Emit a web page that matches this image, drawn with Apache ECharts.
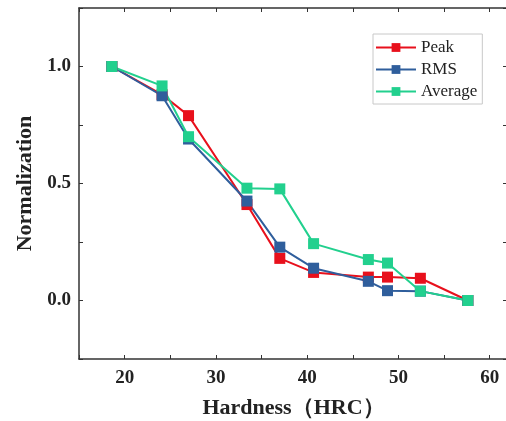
<!DOCTYPE html>
<html><head><meta charset="utf-8">
<script src="https://cdn.jsdelivr.net/npm/echarts@6/dist/echarts.min.js"></script>
<style>html,body{margin:0;padding:0;background:#fff}#c{width:506px;height:421px}</style>
</head><body><div id="c"></div>
<script>
var hardness = [18.6, 24.1, 27.0, 33.4, 37.0, 40.7, 46.7, 48.8, 52.4, 57.6];
var peak    = [1.0, 0.88, 0.79, 0.41, 0.18, 0.12, 0.10, 0.10, 0.095, 0.0];
var rms     = [1.0, 0.875, 0.69, 0.425, 0.228, 0.138, 0.082, 0.042, 0.04, 0.0];
var average = [1.0, 0.917, 0.70, 0.48, 0.477, 0.243, 0.175, 0.16, 0.04, 0.0];
var seriesNames = ['Peak', 'RMS', 'Average'];
var colors = ['#e8101c', '#2f5e9c', '#22d08e'];
var xTickLabels = [20, 30, 40, 50, 60];
var yTickLabels = [0.0, 0.5, 1.0];

function pairs(ys){ return hardness.map(function(x,i){ return [x, ys[i]]; }); }
var font = '"Liberation Serif", "Times New Roman", serif';
var chart = echarts.init(document.getElementById('c'));
var axisLine = {show:true, onZero:false, lineStyle:{color:'#333', width:1.5}};
chart.setOption({
  animation:false,
  grid:{left:79, top:8, right:-2, bottom:62, containLabel:false, outerBoundsMode:'none'},
  legend:{
    data:seriesNames, orient:'vertical', left:373, top:34,
    itemWidth:40, itemHeight:11, itemGap:5,
    borderColor:'#c8c8c8', borderWidth:1, padding:[5,5,4,2],
    textStyle:{fontFamily:font, fontSize:17, color:'#222'}
  },
  xAxis:[{
    type:'value', min:15, max:62, interval:5,
    name:'Hardness（HRC）', nameLocation:'middle', nameGap:38,
    nameTextStyle:{fontFamily:font, fontSize:22, fontWeight:'bold', color:'#222'},
    axisLine:axisLine, axisTick:{inside:true, length:4, lineStyle:{color:'#333'}},
    axisLabel:{fontFamily:font, fontSize:19, fontWeight:'bold', color:'#222', margin:10,
      formatter:function(v){ return xTickLabels.indexOf(v)>=0 ? String(v) : ''; }},
    splitLine:{show:false}
  },{
    type:'value', position:'top', min:15, max:62, interval:5,
    axisLine:axisLine, axisTick:{inside:true, length:4, lineStyle:{color:'#333'}},
    axisLabel:{show:false}, splitLine:{show:false}
  }],
  yAxis:[{
    type:'value', min:-0.25, max:1.25, interval:0.25,
    name:'Normalization', nameLocation:'middle', nameGap:42,
    nameTextStyle:{fontFamily:font, fontSize:22, fontWeight:'bold', color:'#222'},
    axisLine:axisLine, axisTick:{inside:true, length:4, lineStyle:{color:'#333'}},
    axisLabel:{fontFamily:font, fontSize:19, fontWeight:'bold', color:'#222', margin:8,
      formatter:function(v){ return yTickLabels.some(function(t){return Math.abs(t-v)<1e-9;}) ? v.toFixed(1) : ''; }},
    splitLine:{show:false}
  },{
    type:'value', position:'right', min:-0.25, max:1.25, interval:0.25,
    axisLine:axisLine, axisTick:{inside:true, length:5, lineStyle:{color:'#333'}},
    axisLabel:{show:false}, splitLine:{show:false}
  }],
  series:[peak, rms, average].map(function(d,i){
    return {
      name:seriesNames[i], type:'line', data:pairs(d),
      symbol:'rect', symbolSize:11,
      lineStyle:{color:colors[i], width:2},
      itemStyle:{color:colors[i]}
    };
  })
});
</script></body></html>
